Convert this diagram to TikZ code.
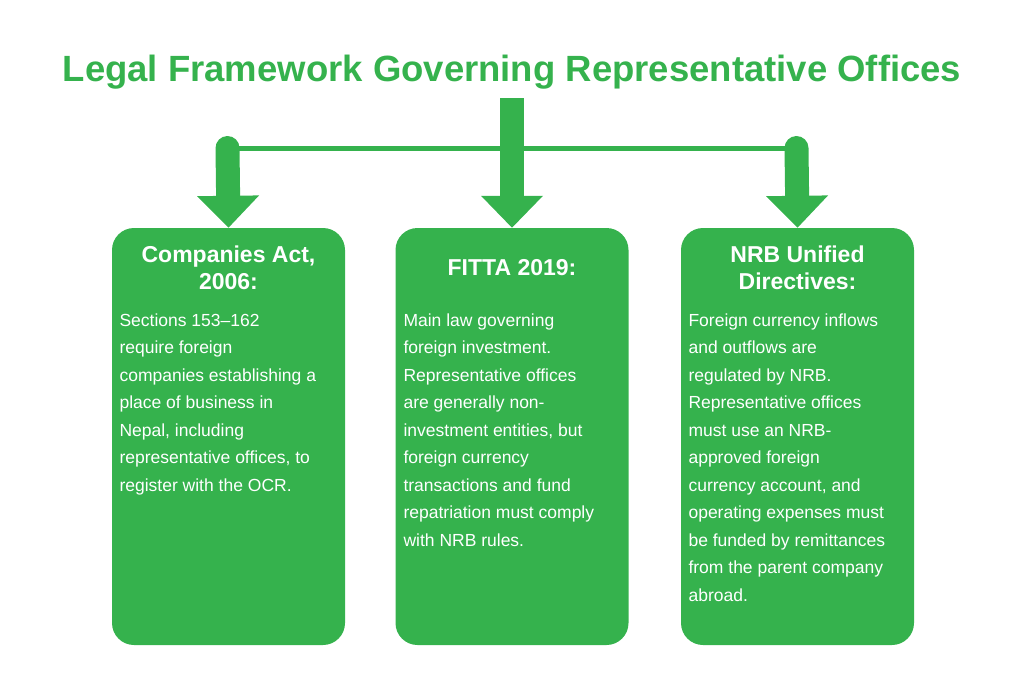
\documentclass[tikz,border=0pt]{standalone}
\usepackage{fontspec}
\setmainfont{Liberation Sans}
\usetikzlibrary{positioning,arrows.meta}
\definecolor{green}{HTML}{35B24D}

\tikzset{
  box/.style={fill=green, rounded corners=22pt, minimum width=233pt, minimum height=417pt, inner sep=0pt},
  head/.style={text=white, font=\bfseries\fontsize{23}{27}\selectfont, align=center},
  body/.style={text=white, font=\fontsize{17.5}{27.5}\selectfont, align=left, anchor=north west},
  flow/.style={green, line width=24pt, -{Triangle[width=60pt,length=32pt]}}
}

\begin{document}
\begin{tikzpicture}[x=1pt, y=-1pt]
\useasboundingbox (0,0) rectangle (1024,683);

% title
\node[text=green, font=\bfseries\fontsize{36.5}{40}\selectfont] (title) at (512,72) {Legal Framework Governing Representative Offices};

% boxes
\node[box] (companies) at (228.5,436.5) {};
\node[box] (fitta) at (512,436.5) {};
\node[box] (nrb) at (797.5,436.5) {};

% arrows
\coordinate (split) at (512,98);
\coordinate (barL) at (227.5,148);
\coordinate (barR) at (796.5,148);
\draw[green, line width=5pt] (barL) -- (barR);
\draw[flow] (split) -- (fitta.north);
\draw[flow, line cap=round] (barL) -- (companies.north);
\draw[flow, line cap=round] (barR) -- (nrb.north);

% texts
\node[head] (companiesh) at (228.5,268) {Companies Act,\\2006:};
\node[body] (companiesb) at (116,310) {Sections 153--162\\require foreign\\companies establishing a\\place of business in\\Nepal, including\\representative offices, to\\register with the OCR.};

\node[head] (fittah) at (512,268) {FITTA 2019:};
\node[body] (fittab) at (400,310) {Main law governing\\foreign investment.\\Representative offices\\are generally non-\\investment entities, but\\foreign currency\\transactions and fund\\repatriation must comply\\with NRB rules.};

\node[head] (nrbh) at (797.5,268) {NRB Unified\\Directives:};
\node[body] (nrbb) at (685,310) {Foreign currency inflows\\and outflows are\\regulated by NRB.\\Representative offices\\must use an NRB-\\approved foreign\\currency account, and\\operating expenses must\\be funded by remittances\\from the parent company\\abroad.};
\end{tikzpicture}
\end{document}
